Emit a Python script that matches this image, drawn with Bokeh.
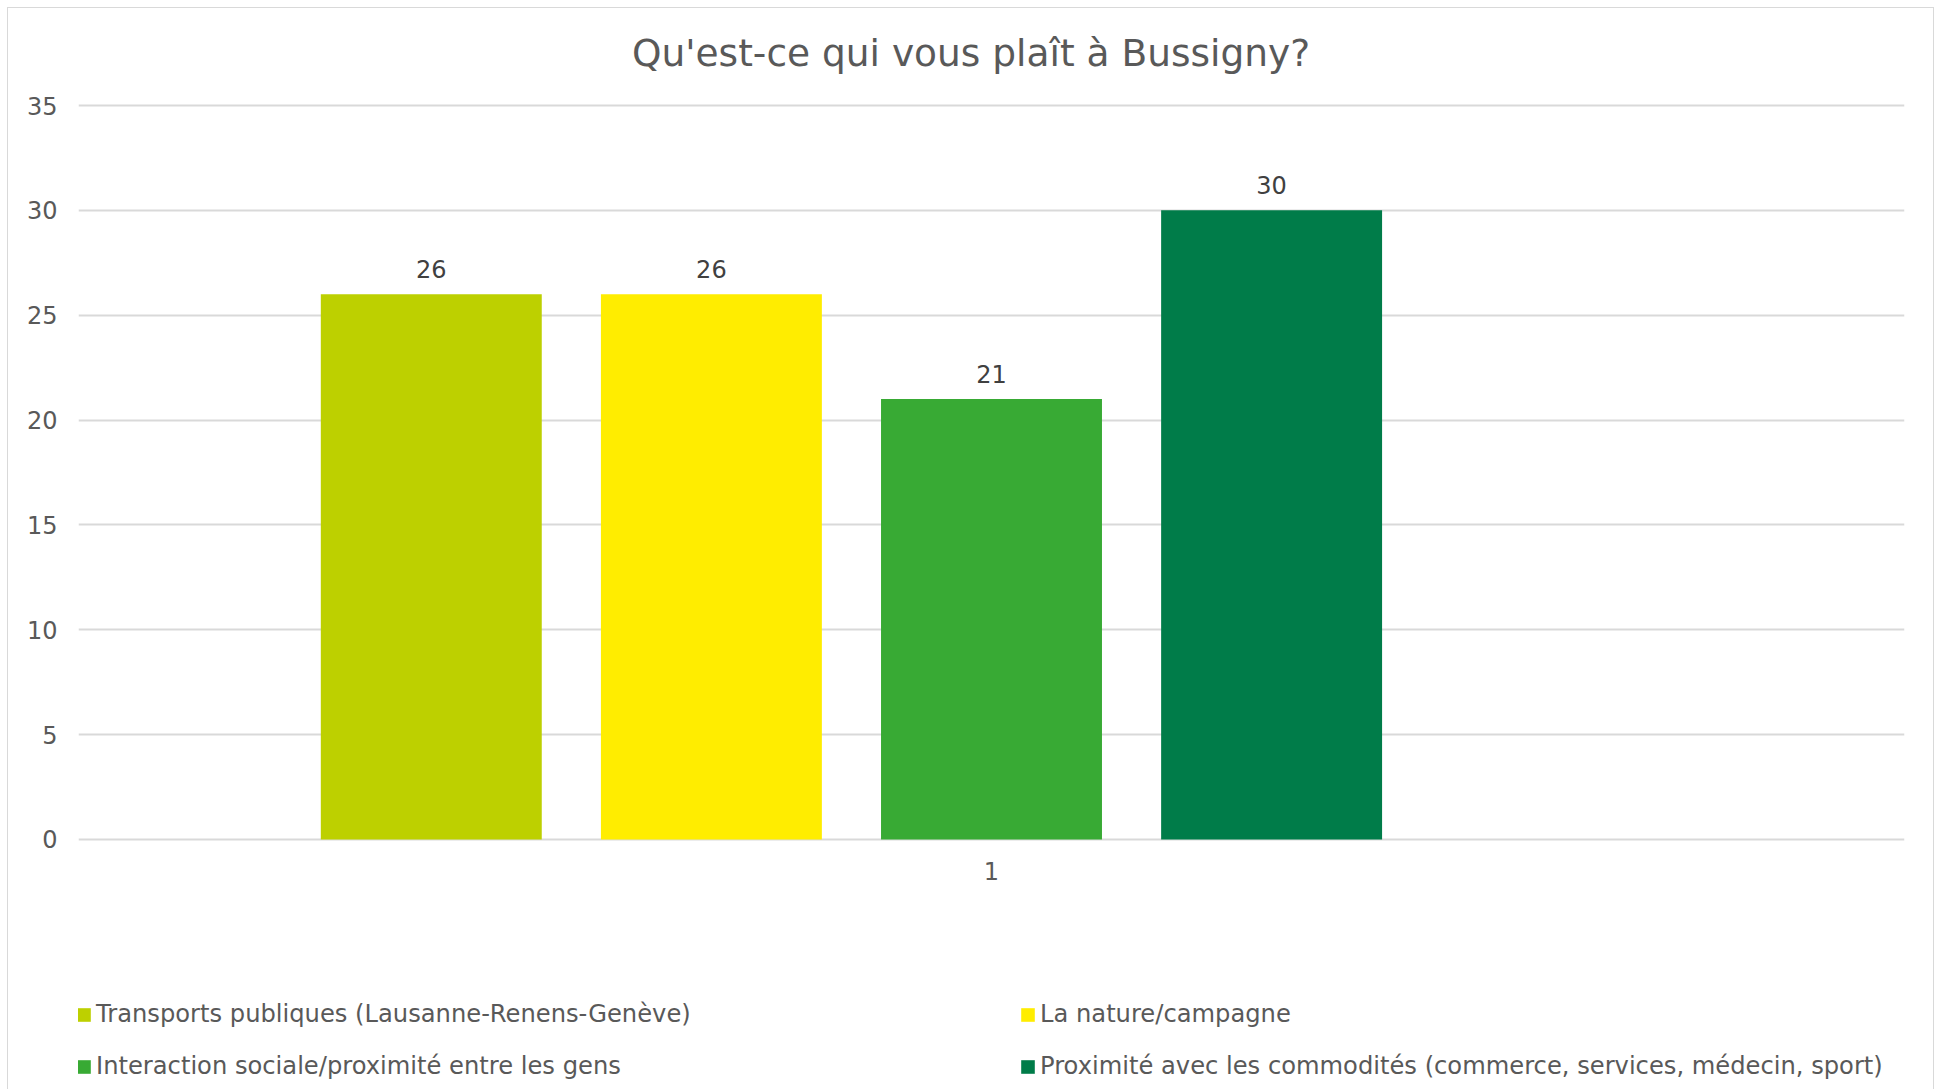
from bokeh.plotting import figure
from bokeh.models import (ColumnDataSource, FactorRange, Range1d, Legend, LegendItem,
                          FixedTicker)
from bokeh.transform import dodge
from bokeh.core.properties import value
from bokeh.embed import file_html
from bokeh.resources import INLINE

# ---- data ----
title = "Qu'est-ce qui vous plaît à Bussigny?"
category = ["1"]
series_names = [
    "Transports publiques (Lausanne-Renens-Genève)",
    "La nature/campagne",
    "Interaction sociale/proximité entre les gens",
    "Proximité avec les commodités (commerce, services, médecin, sport)",
]
series_values = [26, 26, 21, 30]
series_colors = ["#BDD000", "#FFED00", "#38AA34", "#007C49"]
y_ticks_interval = 5
y_max = 35

FONT = "DejaVu Sans"
TXT = "#595959"
GRID = "#D9D9D9"

# the frame fills the whole height: room above y_max for the title,
# room below zero for the category label and the legend
px_per_unit = 20.971
H = 1082
space_above = 97    # px between canvas top and the y_max gridline
y_top = y_max + space_above / px_per_unit
y_bottom = y_top - H / px_per_unit

p = figure(
    x_range=FactorRange(*category),
    y_range=Range1d(y_bottom, y_top),
    width=1927, height=H,
    output_backend="svg", toolbar_location=None,
    min_border_left=70, min_border_right=31,
    min_border_top=0, min_border_bottom=0,
)
p.styles = {"margin-left": "7px", "margin-top": "7px",
            "border-top": "1px solid #D9D9D9", "border-left": "1px solid #D9D9D9",
            "border-right": "1px solid #D9D9D9"}
p.outline_line_color = None
p.background_fill_color = "white"
p.border_fill_color = "white"

# title (text placed above the top gridline)
title_src = ColumnDataSource(dict(x=category, y=[y_max], t=[title]))
p.text(x="x", y="y", text="t", source=title_src, text_font=value(FONT),
       text_font_size="37.5px", text_color=TXT, text_align="center",
       text_baseline="middle", x_offset=-20.5, y_offset=-53)

# bars
step = 0.1534
bar_w = 0.121
renderers = []
for i, (name, val, col) in enumerate(zip(series_names, series_values, series_colors)):
    src = ColumnDataSource(dict(x=category, top=[val], lbl=[str(val)]))
    off = (i - 2) * step
    r = p.vbar(x=dodge("x", off, range=p.x_range), top="top", bottom=0, width=bar_w,
               source=src, fill_color=col, line_color=None)
    p.text(x=dodge("x", off, range=p.x_range), y="top", text="lbl", source=src,
           text_font=value(FONT), text_font_size="24px", text_color="#404040",
           text_align="center", text_baseline="middle", y_offset=-25)
    renderers.append(r)

# category label under the zero line
cat_src = ColumnDataSource(dict(x=category, y=[0] * len(category)))
p.text(x="x", y="y", text="x", source=cat_src, text_font=value(FONT),
       text_font_size="24px", text_color=TXT, text_align="center",
       text_baseline="middle", y_offset=32)

# axes
p.yaxis.ticker = FixedTicker(ticks=list(range(0, y_max + 1, y_ticks_interval)))
p.yaxis.axis_line_color = None
p.yaxis.major_tick_line_color = None
p.yaxis.minor_tick_line_color = None
p.yaxis.major_label_text_font = FONT
p.yaxis.major_label_text_font_size = "24px"
p.yaxis.major_label_text_color = TXT
p.yaxis.major_label_standoff = 15
p.xaxis.visible = False

p.xgrid.grid_line_color = None
p.ygrid.grid_line_color = GRID
p.ygrid.grid_line_width = 2

# legends (two columns)
def make_legend(idx, loc):
    return Legend(items=[LegendItem(label=series_names[k], renderers=[renderers[k]]) for k in idx],
                  location=loc, orientation="vertical",
                  glyph_width=17, glyph_height=17, label_standoff=4,
                  label_height=30, spacing=22, padding=0, margin=0,
                  label_text_font=FONT, label_text_font_size="24.2px", label_text_color=TXT,
                  border_line_color=None, background_fill_alpha=0)

p.add_layout(make_legend([0, 2], (-3, 9)))
p.add_layout(make_legend([1, 3], (941, 9)))

open("out.html", "w").write(file_html(p, INLINE))
